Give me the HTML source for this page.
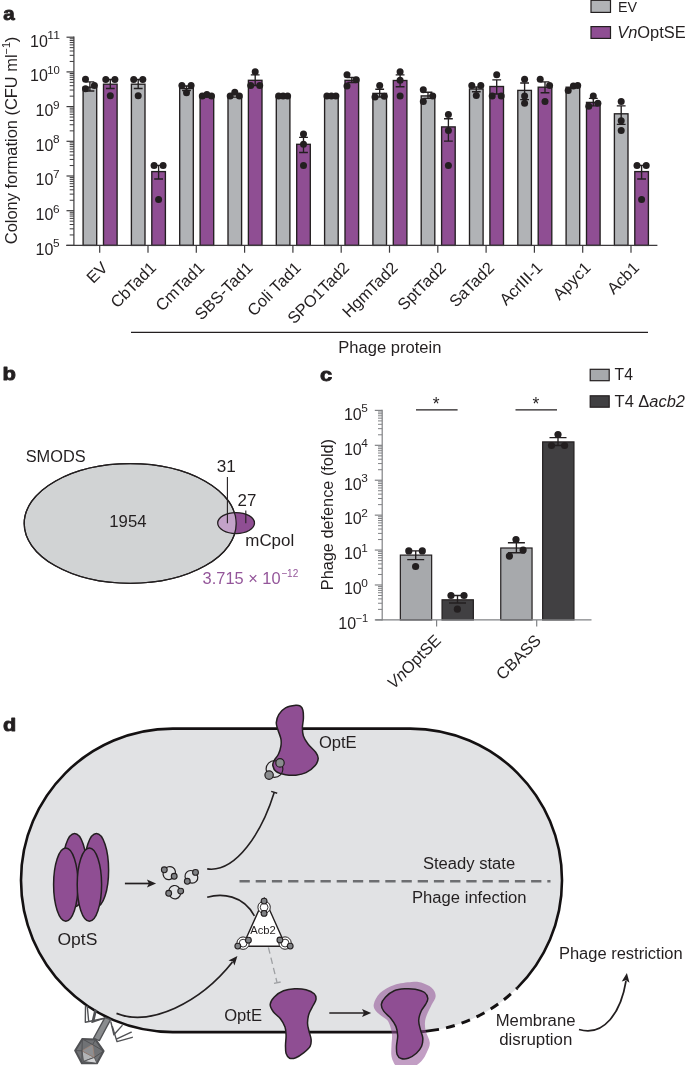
<!DOCTYPE html>
<html><head><meta charset="utf-8"><title>Figure</title>
<style>
html,body{margin:0;padding:0;background:#fff;}
body{width:685px;height:1065px;overflow:hidden;}
svg{display:block;will-change:transform;}
text{font-family:"Liberation Sans",sans-serif;fill:#231f20;}
.t{font-size:16px;}
.pl{font-size:18.6px;font-weight:bold;stroke:#231f20;stroke-width:0.9px;stroke-linejoin:round;}
.sup{font-size:10px;}
</style></head><body>
<svg width="685" height="1065" viewBox="0 0 685 1065">
<rect width="685" height="1065" fill="#fff"/>

<text class="pl" x="3.2" y="19.6" textLength="11.4" lengthAdjust="spacingAndGlyphs">a</text>
<rect x="83.10" y="87.20" width="13.60" height="158.20" fill="#b1b3b6" stroke="#231f20" stroke-width="1.35"/>
<path d="M89.90,81.80V91.00M85.50,81.80H94.30M85.50,91.00H94.30" stroke="#231f20" stroke-width="1.35" fill="none"/>
<circle cx="85.50" cy="79.30" r="3.5" fill="#231f20"/>
<circle cx="85.50" cy="88.70" r="3.5" fill="#231f20"/>
<circle cx="94.40" cy="85.50" r="3.5" fill="#231f20"/>
<rect x="103.50" y="84.20" width="13.60" height="161.20" fill="#8f4e93" stroke="#231f20" stroke-width="1.35"/>
<path d="M110.30,79.50V88.50M105.90,79.50H114.70M105.90,88.50H114.70" stroke="#231f20" stroke-width="1.35" fill="none"/>
<circle cx="105.80" cy="79.50" r="3.5" fill="#231f20"/>
<circle cx="114.90" cy="79.50" r="3.5" fill="#231f20"/>
<circle cx="110.30" cy="95.70" r="3.5" fill="#231f20"/>
<rect x="131.40" y="84.20" width="13.60" height="161.20" fill="#b1b3b6" stroke="#231f20" stroke-width="1.35"/>
<path d="M138.20,79.50V88.50M133.80,79.50H142.60M133.80,88.50H142.60" stroke="#231f20" stroke-width="1.35" fill="none"/>
<circle cx="133.70" cy="79.50" r="3.5" fill="#231f20"/>
<circle cx="142.80" cy="79.50" r="3.5" fill="#231f20"/>
<circle cx="138.20" cy="95.70" r="3.5" fill="#231f20"/>
<rect x="151.80" y="171.60" width="13.60" height="73.80" fill="#8f4e93" stroke="#231f20" stroke-width="1.35"/>
<path d="M158.60,165.40V179.00M154.20,165.40H163.00M154.20,179.00H163.00" stroke="#231f20" stroke-width="1.35" fill="none"/>
<circle cx="154.10" cy="165.40" r="3.5" fill="#231f20"/>
<circle cx="163.10" cy="165.40" r="3.5" fill="#231f20"/>
<circle cx="158.60" cy="199.60" r="3.5" fill="#231f20"/>
<rect x="179.70" y="88.50" width="13.60" height="156.90" fill="#b1b3b6" stroke="#231f20" stroke-width="1.35"/>
<path d="M186.50,86.00V90.50M182.10,86.00H190.90M182.10,90.50H190.90" stroke="#231f20" stroke-width="1.35" fill="none"/>
<circle cx="181.90" cy="85.50" r="3.5" fill="#231f20"/>
<circle cx="191.10" cy="85.50" r="3.5" fill="#231f20"/>
<circle cx="186.50" cy="92.70" r="3.5" fill="#231f20"/>
<rect x="200.10" y="96.70" width="13.60" height="148.70" fill="#8f4e93" stroke="#231f20" stroke-width="1.35"/>
<circle cx="202.30" cy="95.90" r="3.5" fill="#231f20"/>
<circle cx="206.90" cy="94.60" r="3.5" fill="#231f20"/>
<circle cx="211.50" cy="95.90" r="3.5" fill="#231f20"/>
<rect x="228.00" y="97.10" width="13.60" height="148.30" fill="#b1b3b6" stroke="#231f20" stroke-width="1.35"/>
<circle cx="230.20" cy="95.90" r="3.5" fill="#231f20"/>
<circle cx="234.80" cy="92.20" r="3.5" fill="#231f20"/>
<circle cx="239.40" cy="95.90" r="3.5" fill="#231f20"/>
<rect x="248.40" y="80.30" width="13.60" height="165.10" fill="#8f4e93" stroke="#231f20" stroke-width="1.35"/>
<path d="M255.20,74.80V85.50M250.80,74.80H259.60M250.80,85.50H259.60" stroke="#231f20" stroke-width="1.35" fill="none"/>
<circle cx="255.20" cy="71.80" r="3.5" fill="#231f20"/>
<circle cx="250.70" cy="85.50" r="3.5" fill="#231f20"/>
<circle cx="259.70" cy="85.50" r="3.5" fill="#231f20"/>
<rect x="276.30" y="96.70" width="13.60" height="148.70" fill="#b1b3b6" stroke="#231f20" stroke-width="1.35"/>
<circle cx="278.60" cy="95.90" r="3.5" fill="#231f20"/>
<circle cx="283.10" cy="95.90" r="3.5" fill="#231f20"/>
<circle cx="287.60" cy="95.90" r="3.5" fill="#231f20"/>
<rect x="296.70" y="144.30" width="13.60" height="101.10" fill="#8f4e93" stroke="#231f20" stroke-width="1.35"/>
<path d="M303.50,137.30V152.50M299.10,137.30H307.90M299.10,152.50H307.90" stroke="#231f20" stroke-width="1.35" fill="none"/>
<circle cx="303.50" cy="133.90" r="3.5" fill="#231f20"/>
<circle cx="303.50" cy="144.30" r="3.5" fill="#231f20"/>
<circle cx="303.50" cy="165.40" r="3.5" fill="#231f20"/>
<rect x="324.60" y="96.70" width="13.60" height="148.70" fill="#b1b3b6" stroke="#231f20" stroke-width="1.35"/>
<circle cx="326.90" cy="95.90" r="3.5" fill="#231f20"/>
<circle cx="331.40" cy="95.90" r="3.5" fill="#231f20"/>
<circle cx="335.90" cy="95.90" r="3.5" fill="#231f20"/>
<rect x="345.00" y="80.30" width="13.60" height="165.10" fill="#8f4e93" stroke="#231f20" stroke-width="1.35"/>
<path d="M351.80,77.50V82.50M347.40,77.50H356.20M347.40,82.50H356.20" stroke="#231f20" stroke-width="1.35" fill="none"/>
<circle cx="347.00" cy="74.80" r="3.5" fill="#231f20"/>
<circle cx="356.30" cy="79.80" r="3.5" fill="#231f20"/>
<circle cx="347.00" cy="86.00" r="3.5" fill="#231f20"/>
<rect x="372.90" y="93.40" width="13.60" height="152.00" fill="#b1b3b6" stroke="#231f20" stroke-width="1.35"/>
<path d="M379.70,89.20V97.00M375.30,89.20H384.10M375.30,97.00H384.10" stroke="#231f20" stroke-width="1.35" fill="none"/>
<circle cx="379.70" cy="85.50" r="3.5" fill="#231f20"/>
<circle cx="375.00" cy="97.10" r="3.5" fill="#231f20"/>
<circle cx="384.30" cy="96.20" r="3.5" fill="#231f20"/>
<rect x="393.30" y="80.50" width="13.60" height="164.90" fill="#8f4e93" stroke="#231f20" stroke-width="1.35"/>
<path d="M400.10,74.80V86.70M395.70,74.80H404.50M395.70,86.70H404.50" stroke="#231f20" stroke-width="1.35" fill="none"/>
<circle cx="400.10" cy="71.80" r="3.5" fill="#231f20"/>
<circle cx="400.10" cy="80.30" r="3.5" fill="#231f20"/>
<circle cx="400.10" cy="95.90" r="3.5" fill="#231f20"/>
<rect x="421.20" y="95.90" width="13.60" height="149.50" fill="#b1b3b6" stroke="#231f20" stroke-width="1.35"/>
<path d="M428.00,92.20V98.40M423.60,92.20H432.40M423.60,98.40H432.40" stroke="#231f20" stroke-width="1.35" fill="none"/>
<circle cx="423.30" cy="89.70" r="3.5" fill="#231f20"/>
<circle cx="432.70" cy="95.90" r="3.5" fill="#231f20"/>
<circle cx="423.30" cy="101.40" r="3.5" fill="#231f20"/>
<rect x="441.60" y="126.90" width="13.60" height="118.50" fill="#8f4e93" stroke="#231f20" stroke-width="1.35"/>
<path d="M448.40,118.70V141.10M444.00,118.70H452.80M444.00,141.10H452.80" stroke="#231f20" stroke-width="1.35" fill="none"/>
<circle cx="448.40" cy="114.50" r="3.5" fill="#231f20"/>
<circle cx="448.40" cy="130.60" r="3.5" fill="#231f20"/>
<circle cx="448.40" cy="165.40" r="3.5" fill="#231f20"/>
<rect x="469.50" y="89.00" width="13.60" height="156.40" fill="#b1b3b6" stroke="#231f20" stroke-width="1.35"/>
<path d="M476.30,87.00V91.70M471.90,87.00H480.70M471.90,91.70H480.70" stroke="#231f20" stroke-width="1.35" fill="none"/>
<circle cx="471.80" cy="85.50" r="3.5" fill="#231f20"/>
<circle cx="480.80" cy="85.50" r="3.5" fill="#231f20"/>
<circle cx="476.30" cy="95.40" r="3.5" fill="#231f20"/>
<rect x="489.90" y="86.50" width="13.60" height="158.90" fill="#8f4e93" stroke="#231f20" stroke-width="1.35"/>
<path d="M496.70,79.80V94.00M492.30,79.80H501.10M492.30,94.00H501.10" stroke="#231f20" stroke-width="1.35" fill="none"/>
<circle cx="496.70" cy="74.80" r="3.5" fill="#231f20"/>
<circle cx="492.20" cy="95.90" r="3.5" fill="#231f20"/>
<circle cx="501.20" cy="95.90" r="3.5" fill="#231f20"/>
<rect x="517.80" y="90.40" width="13.60" height="155.00" fill="#b1b3b6" stroke="#231f20" stroke-width="1.35"/>
<path d="M524.60,83.00V99.60M520.20,83.00H529.00M520.20,99.60H529.00" stroke="#231f20" stroke-width="1.35" fill="none"/>
<circle cx="524.60" cy="79.30" r="3.5" fill="#231f20"/>
<circle cx="524.60" cy="95.90" r="3.5" fill="#231f20"/>
<circle cx="524.60" cy="103.30" r="3.5" fill="#231f20"/>
<rect x="538.20" y="87.20" width="13.60" height="158.20" fill="#8f4e93" stroke="#231f20" stroke-width="1.35"/>
<path d="M545.00,81.80V92.70M540.60,81.80H549.40M540.60,92.70H549.40" stroke="#231f20" stroke-width="1.35" fill="none"/>
<circle cx="540.20" cy="79.30" r="3.5" fill="#231f20"/>
<circle cx="549.60" cy="85.50" r="3.5" fill="#231f20"/>
<circle cx="545.00" cy="101.40" r="3.5" fill="#231f20"/>
<rect x="566.10" y="87.20" width="13.60" height="158.20" fill="#b1b3b6" stroke="#231f20" stroke-width="1.35"/>
<circle cx="568.20" cy="90.40" r="3.5" fill="#231f20"/>
<circle cx="573.40" cy="86.00" r="3.5" fill="#231f20"/>
<circle cx="577.70" cy="85.50" r="3.5" fill="#231f20"/>
<rect x="586.50" y="102.40" width="13.60" height="143.00" fill="#8f4e93" stroke="#231f20" stroke-width="1.35"/>
<path d="M593.30,98.40V105.80M588.90,98.40H597.70M588.90,105.80H597.70" stroke="#231f20" stroke-width="1.35" fill="none"/>
<circle cx="593.30" cy="95.90" r="3.5" fill="#231f20"/>
<circle cx="588.80" cy="106.30" r="3.5" fill="#231f20"/>
<circle cx="597.90" cy="103.30" r="3.5" fill="#231f20"/>
<rect x="614.40" y="113.80" width="13.60" height="131.60" fill="#b1b3b6" stroke="#231f20" stroke-width="1.35"/>
<path d="M621.20,105.80V124.40M616.80,105.80H625.60M616.80,124.40H625.60" stroke="#231f20" stroke-width="1.35" fill="none"/>
<circle cx="621.20" cy="101.40" r="3.5" fill="#231f20"/>
<circle cx="621.20" cy="120.70" r="3.5" fill="#231f20"/>
<circle cx="621.20" cy="130.60" r="3.5" fill="#231f20"/>
<rect x="634.80" y="171.60" width="13.60" height="73.80" fill="#8f4e93" stroke="#231f20" stroke-width="1.35"/>
<path d="M641.60,165.40V179.00M637.20,165.40H646.00M637.20,179.00H646.00" stroke="#231f20" stroke-width="1.35" fill="none"/>
<circle cx="637.00" cy="165.40" r="3.5" fill="#231f20"/>
<circle cx="646.20" cy="165.40" r="3.5" fill="#231f20"/>
<circle cx="641.60" cy="199.60" r="3.5" fill="#231f20"/>
<line x1="66.3" y1="245.4" x2="657.4" y2="245.4" stroke="#3d3b3d" stroke-width="1.2"/>
<line x1="99.70" y1="245.4" x2="99.70" y2="252.7" stroke="#3d3b3d" stroke-width="1.2"/>
<text text-anchor="end" style="font-size:16.4px" transform="translate(108.80,268.8) rotate(-45)">EV</text>
<line x1="148.00" y1="245.4" x2="148.00" y2="252.7" stroke="#3d3b3d" stroke-width="1.2"/>
<text text-anchor="end" style="font-size:16.4px" transform="translate(157.10,268.8) rotate(-45)">CbTad1</text>
<line x1="196.30" y1="245.4" x2="196.30" y2="252.7" stroke="#3d3b3d" stroke-width="1.2"/>
<text text-anchor="end" style="font-size:16.4px" transform="translate(205.40,268.8) rotate(-45)">CmTad1</text>
<line x1="244.60" y1="245.4" x2="244.60" y2="252.7" stroke="#3d3b3d" stroke-width="1.2"/>
<text text-anchor="end" style="font-size:16.4px" transform="translate(253.70,268.8) rotate(-45)">SBS-Tad1</text>
<line x1="292.90" y1="245.4" x2="292.90" y2="252.7" stroke="#3d3b3d" stroke-width="1.2"/>
<text text-anchor="end" style="font-size:16.4px" transform="translate(302.00,268.8) rotate(-45)">Coli Tad1</text>
<line x1="341.20" y1="245.4" x2="341.20" y2="252.7" stroke="#3d3b3d" stroke-width="1.2"/>
<text text-anchor="end" style="font-size:16.4px" transform="translate(350.30,268.8) rotate(-45)">SPO1Tad2</text>
<line x1="389.50" y1="245.4" x2="389.50" y2="252.7" stroke="#3d3b3d" stroke-width="1.2"/>
<text text-anchor="end" style="font-size:16.4px" transform="translate(398.60,268.8) rotate(-45)">HgmTad2</text>
<line x1="437.80" y1="245.4" x2="437.80" y2="252.7" stroke="#3d3b3d" stroke-width="1.2"/>
<text text-anchor="end" style="font-size:16.4px" transform="translate(446.90,268.8) rotate(-45)">SptTad2</text>
<line x1="486.10" y1="245.4" x2="486.10" y2="252.7" stroke="#3d3b3d" stroke-width="1.2"/>
<text text-anchor="end" style="font-size:16.4px" transform="translate(495.20,268.8) rotate(-45)">SaTad2</text>
<line x1="534.40" y1="245.4" x2="534.40" y2="252.7" stroke="#3d3b3d" stroke-width="1.2"/>
<text text-anchor="end" style="font-size:16.4px" transform="translate(543.50,268.8) rotate(-45)">AcrIII-1</text>
<line x1="582.70" y1="245.4" x2="582.70" y2="252.7" stroke="#3d3b3d" stroke-width="1.2"/>
<text text-anchor="end" style="font-size:16.4px" transform="translate(591.80,268.8) rotate(-45)">Apyc1</text>
<line x1="631.00" y1="245.4" x2="631.00" y2="252.7" stroke="#3d3b3d" stroke-width="1.2"/>
<text text-anchor="end" style="font-size:16.4px" transform="translate(640.10,268.8) rotate(-45)">Acb1</text>
<g stroke="#3d3b3d" stroke-width="1.2" fill="none">
<line x1="73.9" y1="36.6" x2="73.9" y2="246.0"/>
<line x1="66.5" y1="245.40" x2="73.9" y2="245.40"/>
<line x1="69.7" y1="234.95" x2="73.9" y2="234.95" stroke-width="1.0"/>
<line x1="69.7" y1="228.84" x2="73.9" y2="228.84" stroke-width="1.0"/>
<line x1="69.7" y1="224.51" x2="73.9" y2="224.51" stroke-width="1.0"/>
<line x1="69.7" y1="221.15" x2="73.9" y2="221.15" stroke-width="1.0"/>
<line x1="69.7" y1="218.40" x2="73.9" y2="218.40" stroke-width="1.0"/>
<line x1="69.7" y1="216.08" x2="73.9" y2="216.08" stroke-width="1.0"/>
<line x1="69.7" y1="214.06" x2="73.9" y2="214.06" stroke-width="1.0"/>
<line x1="69.7" y1="212.29" x2="73.9" y2="212.29" stroke-width="1.0"/>
<line x1="66.5" y1="210.70" x2="73.9" y2="210.70"/>
<line x1="69.7" y1="200.25" x2="73.9" y2="200.25" stroke-width="1.0"/>
<line x1="69.7" y1="194.14" x2="73.9" y2="194.14" stroke-width="1.0"/>
<line x1="69.7" y1="189.81" x2="73.9" y2="189.81" stroke-width="1.0"/>
<line x1="69.7" y1="186.45" x2="73.9" y2="186.45" stroke-width="1.0"/>
<line x1="69.7" y1="183.70" x2="73.9" y2="183.70" stroke-width="1.0"/>
<line x1="69.7" y1="181.38" x2="73.9" y2="181.38" stroke-width="1.0"/>
<line x1="69.7" y1="179.36" x2="73.9" y2="179.36" stroke-width="1.0"/>
<line x1="69.7" y1="177.59" x2="73.9" y2="177.59" stroke-width="1.0"/>
<line x1="66.5" y1="176.00" x2="73.9" y2="176.00"/>
<line x1="69.7" y1="165.55" x2="73.9" y2="165.55" stroke-width="1.0"/>
<line x1="69.7" y1="159.44" x2="73.9" y2="159.44" stroke-width="1.0"/>
<line x1="69.7" y1="155.11" x2="73.9" y2="155.11" stroke-width="1.0"/>
<line x1="69.7" y1="151.75" x2="73.9" y2="151.75" stroke-width="1.0"/>
<line x1="69.7" y1="149.00" x2="73.9" y2="149.00" stroke-width="1.0"/>
<line x1="69.7" y1="146.68" x2="73.9" y2="146.68" stroke-width="1.0"/>
<line x1="69.7" y1="144.66" x2="73.9" y2="144.66" stroke-width="1.0"/>
<line x1="69.7" y1="142.89" x2="73.9" y2="142.89" stroke-width="1.0"/>
<line x1="66.5" y1="141.30" x2="73.9" y2="141.30"/>
<line x1="69.7" y1="130.85" x2="73.9" y2="130.85" stroke-width="1.0"/>
<line x1="69.7" y1="124.74" x2="73.9" y2="124.74" stroke-width="1.0"/>
<line x1="69.7" y1="120.41" x2="73.9" y2="120.41" stroke-width="1.0"/>
<line x1="69.7" y1="117.05" x2="73.9" y2="117.05" stroke-width="1.0"/>
<line x1="69.7" y1="114.30" x2="73.9" y2="114.30" stroke-width="1.0"/>
<line x1="69.7" y1="111.98" x2="73.9" y2="111.98" stroke-width="1.0"/>
<line x1="69.7" y1="109.96" x2="73.9" y2="109.96" stroke-width="1.0"/>
<line x1="69.7" y1="108.19" x2="73.9" y2="108.19" stroke-width="1.0"/>
<line x1="66.5" y1="106.60" x2="73.9" y2="106.60"/>
<line x1="69.7" y1="96.15" x2="73.9" y2="96.15" stroke-width="1.0"/>
<line x1="69.7" y1="90.04" x2="73.9" y2="90.04" stroke-width="1.0"/>
<line x1="69.7" y1="85.71" x2="73.9" y2="85.71" stroke-width="1.0"/>
<line x1="69.7" y1="82.35" x2="73.9" y2="82.35" stroke-width="1.0"/>
<line x1="69.7" y1="79.60" x2="73.9" y2="79.60" stroke-width="1.0"/>
<line x1="69.7" y1="77.28" x2="73.9" y2="77.28" stroke-width="1.0"/>
<line x1="69.7" y1="75.26" x2="73.9" y2="75.26" stroke-width="1.0"/>
<line x1="69.7" y1="73.49" x2="73.9" y2="73.49" stroke-width="1.0"/>
<line x1="66.5" y1="71.90" x2="73.9" y2="71.90"/>
<line x1="69.7" y1="61.45" x2="73.9" y2="61.45" stroke-width="1.0"/>
<line x1="69.7" y1="55.34" x2="73.9" y2="55.34" stroke-width="1.0"/>
<line x1="69.7" y1="51.01" x2="73.9" y2="51.01" stroke-width="1.0"/>
<line x1="69.7" y1="47.65" x2="73.9" y2="47.65" stroke-width="1.0"/>
<line x1="69.7" y1="44.90" x2="73.9" y2="44.90" stroke-width="1.0"/>
<line x1="69.7" y1="42.58" x2="73.9" y2="42.58" stroke-width="1.0"/>
<line x1="69.7" y1="40.56" x2="73.9" y2="40.56" stroke-width="1.0"/>
<line x1="69.7" y1="38.79" x2="73.9" y2="38.79" stroke-width="1.0"/>
<line x1="66.5" y1="37.20" x2="73.9" y2="37.20"/>
</g>
<text x="53.40" y="254.70" text-anchor="end" style="font-size:16px">10</text>
<text x="52.90" y="247.30" textLength="6.60" lengthAdjust="spacingAndGlyphs" style="font-size:10.6px;">5</text>
<text x="53.40" y="220.00" text-anchor="end" style="font-size:16px">10</text>
<text x="52.90" y="212.60" textLength="6.60" lengthAdjust="spacingAndGlyphs" style="font-size:10.6px;">6</text>
<text x="53.40" y="185.30" text-anchor="end" style="font-size:16px">10</text>
<text x="52.90" y="177.90" textLength="6.60" lengthAdjust="spacingAndGlyphs" style="font-size:10.6px;">7</text>
<text x="53.40" y="150.60" text-anchor="end" style="font-size:16px">10</text>
<text x="52.90" y="143.20" textLength="6.60" lengthAdjust="spacingAndGlyphs" style="font-size:10.6px;">8</text>
<text x="53.40" y="115.90" text-anchor="end" style="font-size:16px">10</text>
<text x="52.90" y="108.50" textLength="6.60" lengthAdjust="spacingAndGlyphs" style="font-size:10.6px;">9</text>
<text x="47.80" y="81.20" text-anchor="end" style="font-size:16px">10</text>
<text x="47.30" y="73.80" textLength="12.60" lengthAdjust="spacingAndGlyphs" style="font-size:10.6px;">10</text>
<text x="47.80" y="46.50" text-anchor="end" style="font-size:16px">10</text>
<text x="47.30" y="39.10" textLength="12.60" lengthAdjust="spacingAndGlyphs" style="font-size:10.6px;">11</text>
<text text-anchor="middle" textLength="207.5" lengthAdjust="spacingAndGlyphs" transform="translate(16.6,140.4) rotate(-90) scale(1,1.07)" style="font-size:16px">Colony formation (CFU ml<tspan style="font-size:10.5px" dy="-6">−1</tspan><tspan dy="6">)</tspan></text>
<line x1="131" y1="332.3" x2="648" y2="332.3" stroke="#231f20" stroke-width="1.3"/>
<text x="338.30" y="352.90" textLength="103.10" lengthAdjust="spacingAndGlyphs" style="font-size:15.8px;">Phage protein</text>
<rect x="591" y="0.3" width="19.5" height="12.1" fill="#b1b3b6" stroke="#231f20" stroke-width="1.2"/>
<text x="617.90" y="11.60" textLength="19.10" lengthAdjust="spacingAndGlyphs" style="font-size:15.2px;">EV</text>
<rect x="591" y="26.6" width="19.5" height="11.8" fill="#8f4e93" stroke="#231f20" stroke-width="1.2"/>
<text x="617.20" y="37.80" textLength="68.60" lengthAdjust="spacingAndGlyphs" style="font-size:15.8px;"><tspan font-style="italic">Vn</tspan>OptSE</text>
<text class="pl" x="2.6" y="380.3" textLength="13.4" lengthAdjust="spacingAndGlyphs">b</text>
<ellipse cx="130.2" cy="523.5" rx="106" ry="59.8" fill="#d1d3d4" stroke="#231f20" stroke-width="1.3"/>
<defs><clipPath id="bigc"><ellipse cx="130.2" cy="523.5" rx="106" ry="59.8"/></clipPath></defs>
<ellipse cx="236.1" cy="523.1" rx="18.4" ry="10.5" fill="#8f4e93"/>
<ellipse cx="236.1" cy="523.1" rx="18.4" ry="10.5" fill="#c3a2c8" clip-path="url(#bigc)"/>
<ellipse cx="130.2" cy="523.5" rx="106" ry="59.8" fill="none" stroke="#231f20" stroke-width="1.3"/>
<ellipse cx="236.1" cy="523.1" rx="18.4" ry="10.5" fill="none" stroke="#231f20" stroke-width="1.3"/>
<text x="25.70" y="461.70" textLength="60.00" lengthAdjust="spacingAndGlyphs" style="font-size:15.8px;">SMODS</text>
<text x="109.30" y="527.30" textLength="37.20" lengthAdjust="spacingAndGlyphs" style="font-size:15.8px;">1954</text>
<text x="216.80" y="472.30" textLength="19.10" lengthAdjust="spacingAndGlyphs" style="font-size:15.8px;">31</text>
<line x1="227.4" y1="477" x2="227.4" y2="523.3" stroke="#231f20" stroke-width="1.1"/>
<text x="237.50" y="506.30" textLength="18.80" lengthAdjust="spacingAndGlyphs" style="font-size:15.8px;">27</text>
<line x1="245.8" y1="510.5" x2="245.8" y2="523.3" stroke="#231f20" stroke-width="1.1"/>
<text x="245.30" y="546.00" textLength="48.90" lengthAdjust="spacingAndGlyphs" style="font-size:15.8px;">mCpol</text>
<text x="202.60" y="583.80" textLength="78.00" lengthAdjust="spacingAndGlyphs" style="font-size:15.8px;fill:#94569a">3.715 × 10</text>
<text x="281.20" y="576.90" textLength="17.10" lengthAdjust="spacingAndGlyphs" style="font-size:10.4px;fill:#94569a">−12</text>
<text class="pl" x="319.9" y="380.7" textLength="12.2" lengthAdjust="spacingAndGlyphs">c</text>
<rect x="400.35" y="555.10" width="31.30" height="64.80" fill="#a7a9ac" stroke="#231f20" stroke-width="1.2"/>
<path d="M415.70,550.90V559.60M407.20,550.90H424.20M407.20,559.60H424.20" stroke="#231f20" stroke-width="1.35" fill="none"/>
<circle cx="408.80" cy="550.90" r="3.6" fill="#231f20"/>
<circle cx="422.30" cy="550.90" r="3.6" fill="#231f20"/>
<circle cx="415.60" cy="566.50" r="3.6" fill="#231f20"/>
<rect x="442.05" y="599.80" width="31.30" height="20.10" fill="#414042" stroke="#231f20" stroke-width="1.2"/>
<path d="M457.50,595.50V603.00M449.00,595.50H466.00M449.00,603.00H466.00" stroke="#231f20" stroke-width="1.35" fill="none"/>
<circle cx="451.00" cy="595.50" r="3.6" fill="#231f20"/>
<circle cx="464.00" cy="595.50" r="3.6" fill="#231f20"/>
<circle cx="457.40" cy="609.20" r="3.6" fill="#231f20"/>
<rect x="500.75" y="548.00" width="31.30" height="71.90" fill="#a7a9ac" stroke="#231f20" stroke-width="1.2"/>
<path d="M516.40,542.70V552.70M507.90,542.70H524.90M507.90,552.70H524.90" stroke="#231f20" stroke-width="1.35" fill="none"/>
<circle cx="516.00" cy="539.50" r="3.6" fill="#231f20"/>
<circle cx="523.10" cy="550.10" r="3.6" fill="#231f20"/>
<circle cx="509.40" cy="556.10" r="3.6" fill="#231f20"/>
<rect x="542.65" y="441.90" width="31.30" height="178.00" fill="#414042" stroke="#231f20" stroke-width="1.2"/>
<path d="M558.00,437.60V445.50M549.50,437.60H566.50M549.50,445.50H566.50" stroke="#231f20" stroke-width="1.35" fill="none"/>
<circle cx="558.00" cy="434.50" r="3.6" fill="#231f20"/>
<circle cx="551.50" cy="445.50" r="3.6" fill="#231f20"/>
<circle cx="564.60" cy="445.50" r="3.6" fill="#231f20"/>
<line x1="375.4" y1="619.9" x2="591.5" y2="619.9" stroke="#808285" stroke-width="1.2"/>
<line x1="436.6" y1="619.9" x2="436.6" y2="626.6" stroke="#808285" stroke-width="1.2"/>
<text text-anchor="end" style="font-size:16.4px" transform="translate(442.00,641.4) rotate(-45)"><tspan font-style="italic">Vn</tspan>OptSE</text>
<line x1="536.7" y1="619.9" x2="536.7" y2="626.6" stroke="#808285" stroke-width="1.2"/>
<text text-anchor="end" style="font-size:16.4px" transform="translate(542.10,641.4) rotate(-45)">CBASS</text>
<g stroke="#808285" stroke-width="1.2" fill="none">
<line x1="382.2" y1="409.79999999999995" x2="382.2" y2="620.5"/>
<line x1="374.8" y1="619.90" x2="382.2" y2="619.90"/>
<line x1="378.0" y1="609.39" x2="382.2" y2="609.39" stroke-width="1.0"/>
<line x1="378.0" y1="603.24" x2="382.2" y2="603.24" stroke-width="1.0"/>
<line x1="378.0" y1="598.88" x2="382.2" y2="598.88" stroke-width="1.0"/>
<line x1="378.0" y1="595.49" x2="382.2" y2="595.49" stroke-width="1.0"/>
<line x1="378.0" y1="592.73" x2="382.2" y2="592.73" stroke-width="1.0"/>
<line x1="378.0" y1="590.39" x2="382.2" y2="590.39" stroke-width="1.0"/>
<line x1="378.0" y1="588.37" x2="382.2" y2="588.37" stroke-width="1.0"/>
<line x1="378.0" y1="586.58" x2="382.2" y2="586.58" stroke-width="1.0"/>
<line x1="374.8" y1="584.98" x2="382.2" y2="584.98"/>
<line x1="378.0" y1="574.47" x2="382.2" y2="574.47" stroke-width="1.0"/>
<line x1="378.0" y1="568.32" x2="382.2" y2="568.32" stroke-width="1.0"/>
<line x1="378.0" y1="563.96" x2="382.2" y2="563.96" stroke-width="1.0"/>
<line x1="378.0" y1="560.58" x2="382.2" y2="560.58" stroke-width="1.0"/>
<line x1="378.0" y1="557.81" x2="382.2" y2="557.81" stroke-width="1.0"/>
<line x1="378.0" y1="555.48" x2="382.2" y2="555.48" stroke-width="1.0"/>
<line x1="378.0" y1="553.45" x2="382.2" y2="553.45" stroke-width="1.0"/>
<line x1="378.0" y1="551.66" x2="382.2" y2="551.66" stroke-width="1.0"/>
<line x1="374.8" y1="550.07" x2="382.2" y2="550.07"/>
<line x1="378.0" y1="539.56" x2="382.2" y2="539.56" stroke-width="1.0"/>
<line x1="378.0" y1="533.41" x2="382.2" y2="533.41" stroke-width="1.0"/>
<line x1="378.0" y1="529.04" x2="382.2" y2="529.04" stroke-width="1.0"/>
<line x1="378.0" y1="525.66" x2="382.2" y2="525.66" stroke-width="1.0"/>
<line x1="378.0" y1="522.90" x2="382.2" y2="522.90" stroke-width="1.0"/>
<line x1="378.0" y1="520.56" x2="382.2" y2="520.56" stroke-width="1.0"/>
<line x1="378.0" y1="518.53" x2="382.2" y2="518.53" stroke-width="1.0"/>
<line x1="378.0" y1="516.75" x2="382.2" y2="516.75" stroke-width="1.0"/>
<line x1="374.8" y1="515.15" x2="382.2" y2="515.15"/>
<line x1="378.0" y1="504.64" x2="382.2" y2="504.64" stroke-width="1.0"/>
<line x1="378.0" y1="498.49" x2="382.2" y2="498.49" stroke-width="1.0"/>
<line x1="378.0" y1="494.13" x2="382.2" y2="494.13" stroke-width="1.0"/>
<line x1="378.0" y1="490.74" x2="382.2" y2="490.74" stroke-width="1.0"/>
<line x1="378.0" y1="487.98" x2="382.2" y2="487.98" stroke-width="1.0"/>
<line x1="378.0" y1="485.64" x2="382.2" y2="485.64" stroke-width="1.0"/>
<line x1="378.0" y1="483.62" x2="382.2" y2="483.62" stroke-width="1.0"/>
<line x1="378.0" y1="481.83" x2="382.2" y2="481.83" stroke-width="1.0"/>
<line x1="374.8" y1="480.23" x2="382.2" y2="480.23"/>
<line x1="378.0" y1="469.72" x2="382.2" y2="469.72" stroke-width="1.0"/>
<line x1="378.0" y1="463.57" x2="382.2" y2="463.57" stroke-width="1.0"/>
<line x1="378.0" y1="459.21" x2="382.2" y2="459.21" stroke-width="1.0"/>
<line x1="378.0" y1="455.83" x2="382.2" y2="455.83" stroke-width="1.0"/>
<line x1="378.0" y1="453.06" x2="382.2" y2="453.06" stroke-width="1.0"/>
<line x1="378.0" y1="450.73" x2="382.2" y2="450.73" stroke-width="1.0"/>
<line x1="378.0" y1="448.70" x2="382.2" y2="448.70" stroke-width="1.0"/>
<line x1="378.0" y1="446.91" x2="382.2" y2="446.91" stroke-width="1.0"/>
<line x1="374.8" y1="445.32" x2="382.2" y2="445.32"/>
<line x1="378.0" y1="434.81" x2="382.2" y2="434.81" stroke-width="1.0"/>
<line x1="378.0" y1="428.66" x2="382.2" y2="428.66" stroke-width="1.0"/>
<line x1="378.0" y1="424.29" x2="382.2" y2="424.29" stroke-width="1.0"/>
<line x1="378.0" y1="420.91" x2="382.2" y2="420.91" stroke-width="1.0"/>
<line x1="378.0" y1="418.15" x2="382.2" y2="418.15" stroke-width="1.0"/>
<line x1="378.0" y1="415.81" x2="382.2" y2="415.81" stroke-width="1.0"/>
<line x1="378.0" y1="413.78" x2="382.2" y2="413.78" stroke-width="1.0"/>
<line x1="378.0" y1="412.00" x2="382.2" y2="412.00" stroke-width="1.0"/>
<line x1="374.8" y1="410.40" x2="382.2" y2="410.40"/>
</g>
<text x="356.10" y="629.20" text-anchor="end" style="font-size:16px">10</text>
<text x="355.60" y="621.80" textLength="12.60" lengthAdjust="spacingAndGlyphs" style="font-size:10.6px;">−1</text>
<text x="361.70" y="594.28" text-anchor="end" style="font-size:16px">10</text>
<text x="361.20" y="586.88" textLength="6.60" lengthAdjust="spacingAndGlyphs" style="font-size:10.6px;">0</text>
<text x="361.70" y="559.37" text-anchor="end" style="font-size:16px">10</text>
<text x="361.20" y="551.97" textLength="6.60" lengthAdjust="spacingAndGlyphs" style="font-size:10.6px;">1</text>
<text x="361.70" y="524.45" text-anchor="end" style="font-size:16px">10</text>
<text x="361.20" y="517.05" textLength="6.60" lengthAdjust="spacingAndGlyphs" style="font-size:10.6px;">2</text>
<text x="361.70" y="489.53" text-anchor="end" style="font-size:16px">10</text>
<text x="361.20" y="482.13" textLength="6.60" lengthAdjust="spacingAndGlyphs" style="font-size:10.6px;">3</text>
<text x="361.70" y="454.62" text-anchor="end" style="font-size:16px">10</text>
<text x="361.20" y="447.22" textLength="6.60" lengthAdjust="spacingAndGlyphs" style="font-size:10.6px;">4</text>
<text x="361.70" y="419.70" text-anchor="end" style="font-size:16px">10</text>
<text x="361.20" y="412.30" textLength="6.60" lengthAdjust="spacingAndGlyphs" style="font-size:10.6px;">5</text>
<text text-anchor="middle" textLength="151.2" lengthAdjust="spacingAndGlyphs" transform="translate(332.7,514.6) rotate(-90)" style="font-size:15.8px">Phage defence (fold)</text>
<line x1="416" y1="409.8" x2="457.6" y2="409.8" stroke="#231f20" stroke-width="1.3"/>
<text x="436.2" y="410" text-anchor="middle" style="font-size:17.5px">*</text>
<line x1="515.5" y1="409.8" x2="557" y2="409.8" stroke="#231f20" stroke-width="1.3"/>
<text x="535.8" y="410" text-anchor="middle" style="font-size:17.5px">*</text>
<rect x="590.2" y="369.3" width="19" height="11.4" fill="#a7a9ac" stroke="#231f20" stroke-width="1.2"/>
<text x="614.60" y="380.40" textLength="18.30" lengthAdjust="spacingAndGlyphs" style="font-size:15.8px;">T4</text>
<rect x="590.2" y="395.8" width="19" height="11.4" fill="#414042" stroke="#231f20" stroke-width="1.2"/>
<text x="614.60" y="407.10" textLength="70.40" lengthAdjust="spacingAndGlyphs" style="font-size:15.8px;">T4 Δ<tspan font-style="italic">acb2</tspan></text>
<text class="pl" x="2.9" y="730.8" textLength="13.2" lengthAdjust="spacingAndGlyphs">d</text>
<path d="M172.74999999999994,728.6L410.25000000000006,728.6C494.06,728.60 562.00,796.54 562.00,880.35C562.00,964.16 494.06,1032.10 410.25,1032.10L172.74999999999994,1032.1C88.94,1032.10 21.00,964.16 21.00,880.35C21.00,796.54 88.94,728.60 172.75,728.60Z" fill="#e1e2e4"/>
<path d="M439.00,1029.38C429.69,1031.17 420.08,1032.10 410.25,1032.10L172.74999999999994,1032.1C88.94,1032.10 21.00,964.16 21.00,880.35C21.00,796.54 88.94,728.60 172.75,728.60L410.25000000000006,728.6C494.06,728.60 562.00,796.54 562.00,880.35C562.00,922.38 544.91,960.43 517.30,987.91" fill="none" stroke="#141112" stroke-width="2.6"/>
<path d="M439.00,1029.38C469.25,1023.58 496.32,1008.79 517.30,987.91" fill="none" stroke="#141112" stroke-width="3" stroke-dasharray="9 7.2" stroke-dashoffset="9"/>
<line x1="239.5" y1="881.2" x2="550.5" y2="881.2" stroke="#6d6e71" stroke-width="2.6" stroke-dasharray="10.3 5.9"/>
<text x="422.90" y="869.10" textLength="92.30" lengthAdjust="spacingAndGlyphs" style="font-size:15.8px;">Steady state</text>
<text x="412.00" y="903.20" textLength="114.60" lengthAdjust="spacingAndGlyphs" style="font-size:15.8px;">Phage infection</text>
<text x="558.90" y="958.60" textLength="123.80" lengthAdjust="spacingAndGlyphs" style="font-size:15.8px;">Phage restriction</text>
<text x="495.70" y="1026.00" textLength="79.80" lengthAdjust="spacingAndGlyphs" style="font-size:15.8px;">Membrane</text>
<text x="499.20" y="1045.10" textLength="73.20" lengthAdjust="spacingAndGlyphs" style="font-size:15.8px;">disruption</text>
<ellipse cx="74.6" cy="870.2" rx="12.2" ry="36.6" fill="#8f4e93" stroke="#231f20" stroke-width="1.5"/>
<ellipse cx="96.4" cy="870.2" rx="12.2" ry="36.6" fill="#8f4e93" stroke="#231f20" stroke-width="1.5"/>
<ellipse cx="65.8" cy="884.6" rx="12.2" ry="36.6" fill="#8f4e93" stroke="#231f20" stroke-width="1.5"/>
<ellipse cx="89.4" cy="884.6" rx="12.2" ry="36.6" fill="#8f4e93" stroke="#231f20" stroke-width="1.5"/>
<text x="57.50" y="945.00" textLength="39.90" lengthAdjust="spacingAndGlyphs" style="font-size:15.8px;">OptS</text>
<text x="318.90" y="747.80" textLength="37.80" lengthAdjust="spacingAndGlyphs" style="font-size:15.8px;">OptE</text>
<text x="224.20" y="1021.20" textLength="37.80" lengthAdjust="spacingAndGlyphs" style="font-size:15.8px;">OptE</text>
<path d="M124.9,883.5H150" fill="none" stroke="#231f20" stroke-width="1.7"/>
<path d="M0,0L-9.2,-3.9L-7.199999999999999,0L-9.2,3.9Z" fill="#231f20" transform="translate(156.1,883.5) rotate(0)"/>
<path d="M329.3,1013.0H365" fill="none" stroke="#231f20" stroke-width="1.7"/>
<path d="M0,0L-9.2,-3.9L-7.199999999999999,0L-9.2,3.9Z" fill="#231f20" transform="translate(371.2,1013.0) rotate(0)"/>
<path d="M116.5,1013.4C150,1027 200,1003 232.5,962" fill="none" stroke="#231f20" stroke-width="1.7"/>
<path d="M0,0L-9.2,-3.9L-7.199999999999999,0L-9.2,3.9Z" fill="#231f20" transform="translate(237.4,956.0) rotate(-50)"/>
<path d="M579,1029.5C604,1037 621,1012 626,981" fill="none" stroke="#231f20" stroke-width="1.7"/>
<path d="M0,0L-9.2,-3.9L-7.199999999999999,0L-9.2,3.9Z" fill="#231f20" transform="translate(626.9,973.0) rotate(-82)"/>
<ellipse cx="169.25" cy="873.05" rx="6.0" ry="6.7" transform="rotate(33.3 169.25 873.05)" fill="none" stroke="#231f20" stroke-width="1.2"/>
<circle cx="164.30" cy="869.80" r="2.9" fill="#808285" stroke="#231f20" stroke-width="1.1"/>
<circle cx="174.20" cy="876.30" r="2.9" fill="#808285" stroke="#231f20" stroke-width="1.1"/>
<ellipse cx="191.40" cy="876.85" rx="6.0" ry="6.7" transform="rotate(132.7 191.40 876.85)" fill="none" stroke="#231f20" stroke-width="1.2"/>
<circle cx="195.50" cy="872.40" r="2.9" fill="#808285" stroke="#231f20" stroke-width="1.1"/>
<circle cx="187.30" cy="881.30" r="2.9" fill="#808285" stroke="#231f20" stroke-width="1.1"/>
<ellipse cx="174.70" cy="892.20" rx="6.0" ry="6.7" transform="rotate(-10.4 174.70 892.20)" fill="none" stroke="#231f20" stroke-width="1.2"/>
<circle cx="168.70" cy="893.30" r="2.9" fill="#808285" stroke="#231f20" stroke-width="1.1"/>
<circle cx="180.70" cy="891.10" r="2.9" fill="#808285" stroke="#231f20" stroke-width="1.1"/>
<path d="M207.2,868.9C236,873 262,832 274.2,792.6" fill="none" stroke="#231f20" stroke-width="1.6"/>
<path d="M271.2,791.4L277.2,793.2" fill="none" stroke="#231f20" stroke-width="1.5"/>
<path d="M207.2,897.2C222,893 243,895 254.4,915.8" fill="none" stroke="#231f20" stroke-width="1.6"/>
<path d="M295.80,705.20C293.32,705.47 288.32,706.27 285.50,707.80C282.68,709.33 280.43,711.93 278.90,714.40C277.37,716.87 276.47,720.05 276.30,722.60C276.13,725.15 277.13,726.98 277.90,729.70C278.67,732.42 280.40,736.17 280.90,738.90C281.40,741.63 281.32,743.53 280.90,746.10C280.48,748.67 279.50,751.92 278.40,754.30C277.30,756.68 275.23,758.53 274.30,760.40C273.37,762.27 272.47,763.63 272.80,765.50C273.13,767.37 274.18,770.07 276.30,771.60C278.42,773.13 282.25,774.10 285.50,774.70C288.75,775.30 292.38,775.53 295.80,775.20C299.22,774.87 302.77,774.32 306.00,772.70C309.23,771.08 313.17,767.88 315.20,765.50C317.23,763.12 318.12,760.62 318.20,758.40C318.28,756.18 317.40,754.60 315.70,752.20C314.00,749.80 310.05,746.72 308.00,744.00C305.95,741.28 304.33,738.62 303.40,735.90C302.47,733.18 302.40,730.60 302.40,727.70C302.40,724.80 303.32,721.40 303.40,718.50C303.48,715.60 303.40,712.35 302.90,710.30C302.40,708.25 301.58,707.05 300.40,706.20C299.22,705.35 298.28,704.93 295.80,705.20Z" fill="#8f4e93" stroke="#231f20" stroke-width="1.5"/>
<circle cx="274.5" cy="769.0" r="8.4" fill="none" stroke="#231f20" stroke-width="1.2"/>
<circle cx="280.0" cy="762.9" r="4.2" fill="#8a8c8e" stroke="#231f20" stroke-width="1.2"/>
<circle cx="269.1" cy="775.1" r="4.2" fill="#8a8c8e" stroke="#231f20" stroke-width="1.2"/>
<path d="M264.3,898.0L285.8,946.3H242.6Z" fill="#fff" stroke="#231f20" stroke-width="1.4" stroke-linejoin="round"/>
<text x="263.0" y="933.5" text-anchor="middle" textLength="25.6" lengthAdjust="spacingAndGlyphs" style="font-size:10.4px">Acb2</text>
<circle cx="264.10" cy="907.25" r="6.2" fill="#fff" stroke="#231f20" stroke-width="1"/>
<circle cx="264.10" cy="907.25" r="3.9000000000000004" fill="none" stroke="#231f20" stroke-width="0.9"/>
<circle cx="264.10" cy="901.10" r="2.9" fill="#808285" stroke="#231f20" stroke-width="1.1"/>
<circle cx="264.10" cy="913.40" r="2.9" fill="#808285" stroke="#231f20" stroke-width="1.1"/>
<circle cx="243.10" cy="943.15" r="6.2" fill="#fff" stroke="#231f20" stroke-width="1"/>
<circle cx="243.10" cy="943.15" r="3.9000000000000004" fill="none" stroke="#231f20" stroke-width="0.9"/>
<circle cx="237.80" cy="946.10" r="2.9" fill="#808285" stroke="#231f20" stroke-width="1.1"/>
<circle cx="248.40" cy="940.20" r="2.9" fill="#808285" stroke="#231f20" stroke-width="1.1"/>
<circle cx="285.05" cy="943.05" r="6.2" fill="#fff" stroke="#231f20" stroke-width="1"/>
<circle cx="285.05" cy="943.05" r="3.9000000000000004" fill="none" stroke="#231f20" stroke-width="0.9"/>
<circle cx="290.20" cy="946.10" r="2.9" fill="#808285" stroke="#231f20" stroke-width="1.1"/>
<circle cx="279.90" cy="940.00" r="2.9" fill="#808285" stroke="#231f20" stroke-width="1.1"/>
<path d="M268.4,947.4L277.0,982.3" fill="none" stroke="#9d9fa2" stroke-width="1.3" stroke-dasharray="6.5 4"/>
<path d="M274.0,983.4L280.6,982.0" fill="none" stroke="#9d9fa2" stroke-width="1.3"/>
<path d="M294.70,988.70C290.95,988.87 286.90,989.33 283.50,990.70C280.10,992.07 276.52,994.60 274.30,996.90C272.08,999.20 270.37,1002.03 270.20,1004.50C270.03,1006.97 271.60,1009.32 273.30,1011.70C275.00,1014.08 278.45,1016.25 280.40,1018.80C282.35,1021.35 284.05,1024.27 285.00,1027.00C285.95,1029.73 286.02,1032.13 286.10,1035.20C286.18,1038.27 285.50,1042.33 285.50,1045.40C285.50,1048.47 285.42,1051.47 286.10,1053.60C286.78,1055.73 287.98,1057.52 289.60,1058.20C291.22,1058.88 293.42,1058.63 295.80,1057.70C298.18,1056.77 301.52,1054.48 303.90,1052.60C306.28,1050.72 308.90,1048.62 310.10,1046.40C311.30,1044.18 311.28,1041.85 311.10,1039.30C310.92,1036.75 309.60,1033.83 309.00,1031.10C308.40,1028.37 307.50,1025.80 307.50,1022.90C307.50,1020.00 308.07,1016.60 309.00,1013.70C309.93,1010.80 311.93,1007.88 313.10,1005.50C314.27,1003.12 315.82,1001.35 316.00,999.40C316.18,997.45 315.87,995.42 314.20,993.80C312.53,992.18 309.25,990.55 306.00,989.70C302.75,988.85 298.45,988.53 294.70,988.70Z" fill="#8f4e93" stroke="#231f20" stroke-width="1.5"/>
<path d="M411.70,982.00C407.22,982.38 399.48,983.07 394.20,984.90C388.92,986.73 383.40,989.78 380.00,993.00C376.60,996.22 374.45,1001.17 373.80,1004.20C373.15,1007.23 374.57,1009.07 376.10,1011.20C377.63,1013.33 380.95,1015.25 383.00,1017.00C385.05,1018.75 386.92,1018.97 388.40,1021.70C389.88,1024.43 391.38,1029.52 391.90,1033.40C392.42,1037.28 391.60,1041.50 391.50,1045.00C391.40,1048.50 391.05,1051.73 391.30,1054.40C391.55,1057.07 392.13,1059.07 393.00,1061.00C393.87,1062.93 394.00,1064.50 396.50,1066.00C399.00,1067.50 403.90,1070.77 408.00,1070.00C412.10,1069.23 417.93,1064.40 421.10,1061.40C424.27,1058.40 425.55,1055.12 427.00,1052.00C428.45,1048.88 430.02,1046.18 429.80,1042.70C429.58,1039.22 426.50,1034.55 425.70,1031.10C424.90,1027.65 424.80,1024.73 425.00,1022.00C425.20,1019.27 425.82,1017.53 426.90,1014.70C427.98,1011.87 430.03,1008.12 431.50,1005.00C432.97,1001.88 435.68,998.87 435.70,996.00C435.72,993.13 434.03,990.03 431.60,987.80C429.17,985.57 424.42,983.57 421.10,982.60C417.78,981.63 416.18,981.62 411.70,982.00Z" fill="#8f4e93" opacity="0.55"/>
<path d="M404.70,988.80C401.20,989.07 397.42,989.40 394.20,990.80C390.98,992.20 387.53,994.97 385.40,997.20C383.27,999.43 381.68,1001.87 381.40,1004.20C381.12,1006.53 382.15,1008.87 383.70,1011.20C385.25,1013.53 388.67,1015.67 390.70,1018.20C392.73,1020.73 394.73,1023.48 395.90,1026.40C397.07,1029.32 397.60,1032.40 397.70,1035.70C397.80,1039.00 396.60,1043.08 396.50,1046.20C396.40,1049.32 396.32,1052.35 397.10,1054.40C397.88,1056.45 399.35,1057.87 401.20,1058.50C403.05,1059.13 405.67,1059.08 408.20,1058.20C410.73,1057.32 414.17,1055.20 416.40,1053.20C418.63,1051.20 420.53,1048.72 421.60,1046.20C422.67,1043.68 422.98,1040.82 422.80,1038.10C422.62,1035.38 421.18,1032.83 420.50,1029.90C419.82,1026.97 418.60,1023.62 418.70,1020.50C418.80,1017.38 419.93,1013.92 421.10,1011.20C422.27,1008.48 424.58,1006.33 425.70,1004.20C426.82,1002.07 427.98,1000.35 427.80,998.40C427.62,996.45 426.70,994.03 424.60,992.50C422.50,990.97 418.52,989.82 415.20,989.20C411.88,988.58 408.20,988.53 404.70,988.80Z" fill="#8f4e93" stroke="#231f20" stroke-width="1.5"/>
<g stroke="#505154" stroke-width="1.4" fill="none" stroke-linejoin="round" stroke-linecap="round">
<path d="M104.7,1018.2L85.3,1022.2L85.5,1006.2M87.3,1006.5L88.6,1020.5"/>
<path d="M103.5,1018.4L92.0,1022.4L95.0,1009.8M93.6,1021.6L96.2,1010.4"/>
<path d="M110.9,1022.0L113.9,1034.8L122.1,1025.6"/>
<path d="M112.4,1026.6L117.0,1041.6L132.3,1037.3M116.3,1039.2L131.3,1032.2"/>
</g>
<path d="M104.9,1017.6L110.6,1019.6L99.4,1040.6L93.5,1038.4Z" fill="#8a8c8e" stroke="#505154" stroke-width="1.3" stroke-linejoin="round"/>
<path d="M82.3,1038.9L95.5,1039.4L103.6,1051.1L97.0,1063.3L81.9,1063.3L75.2,1050.6Z" fill="#707275" stroke="#505154" stroke-width="2" stroke-linejoin="round"/>
<path d="M82.0,1050.8L94.3,1057.4L83.5,1061.5Z" fill="#b2b4b6" stroke="#505154" stroke-width="0.9" stroke-linejoin="round"/>
<path d="M94.3,1057.4L97.0,1063.3L83.5,1061.5Z" fill="#d3d4d6" stroke="#505154" stroke-width="0.9" stroke-linejoin="round"/>
<path d="M92.6,1044.6L82.0,1050.8L94.3,1057.4Z" fill="#8d8f92" stroke="#a38474" stroke-width="0.7" stroke-linejoin="round"/>
<g stroke="#505154" stroke-width="1.0" fill="none" stroke-linecap="round"><path d="M82.3,1038.9L92.6,1044.6L95.5,1039.4M92.6,1044.6L103.6,1051.1L94.3,1057.4M82.3,1038.9L82.0,1050.8L75.2,1050.6M82.0,1050.8L81.9,1063.3"/></g>
</svg></body></html>
